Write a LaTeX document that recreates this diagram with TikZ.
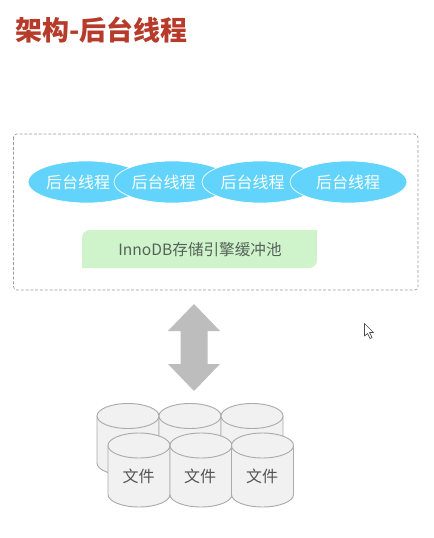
\documentclass[tikz,border=0pt]{standalone}
\usepackage{fontspec}
\setmainfont{Noto Sans CJK SC}
\usetikzlibrary{shapes.geometric}
\definecolor{titlered}{HTML}{B73B2A}
\definecolor{threadblue}{HTML}{62D4FB}
\definecolor{poolgreen}{HTML}{CFF3CB}
\definecolor{pooltext}{HTML}{55635A}
\definecolor{drumfill}{HTML}{F1F1F1}
\definecolor{drumline}{HTML}{ABABAB}
\definecolor{arrowgrey}{HTML}{BDBDBD}
\definecolor{framegrey}{HTML}{9A9A9A}
\definecolor{filetext}{HTML}{555555}
\newlength{\pxu}
\setlength{\pxu}{0.75pt}
\tikzset{
  thread/.style={ellipse,fill=threadblue,draw=white,line width=0.5pt,minimum width=117\pxu,minimum height=42\pxu,inner sep=0pt},
  threadtext/.style={text=white,font=\fontsize{12}{14}\selectfont,inner sep=0pt},
  drumstyle/.style={fill=drumfill,draw=drumline,line width=0.7pt},
  filelabel/.style={text=filetext,font=\fontsize{12}{14}\selectfont,inner sep=0pt}
}
\newcommand{\drum}[3]{% left x, top y of body, bottom y of body
  \draw[drumstyle] (#1,#2) -- (#1,#3) arc[start angle=180,end angle=0,x radius=31,y radius=12.5] -- (#1+62,#2) -- cycle;
  \draw[drumstyle] (#1+31,#2) ellipse[x radius=31,y radius=12.5];
}
\begin{document}
\begin{tikzpicture}[x=0.75pt,y=-0.75pt]
\useasboundingbox (0,0) rectangle (434,538);
\fill[white] (0,0) rectangle (434,538);
\node[anchor=west,inner sep=0pt,text=titlered,font=\fontsize{20.2}{23}\selectfont\bfseries] (title) at (15.5,30) {架构-后台线程};
\draw[framegrey,dash pattern=on 2.2pt off 1.4pt,line width=0.5pt,rounded corners=2.5pt] (13.5,134) rectangle (418,290);
\node[thread] (t1) at (86.5,182) {};
\node[thread] (t2) at (172.5,182) {};
\node[thread] (t3) at (260.5,182) {};
\node[thread] (t4) at (348.5,182) {};
\node[threadtext] (l1) at (78,182) {后台线程};
\node[threadtext] (l2) at (163.5,182) {后台线程};
\node[threadtext] (l3) at (252.5,182) {后台线程};
\node[threadtext] (l4) at (348,182) {后台线程};
\fill[poolgreen] (82,268) -- (82,238) arc[start angle=180,end angle=270,radius=8] -- (317,230) -- (317,260) arc[start angle=0,end angle=90,radius=8] -- cycle;
\node[text=pooltext,font=\fontsize{11.7}{14}\selectfont,inner sep=0pt] (pool) at (200,249.5) {InnoDB存储引擎缓冲池};
\fill[arrowgrey] (194,304) -- (220,331) -- (207.5,331) -- (207.5,364) -- (220,364) -- (194,391) -- (168,364) -- (180.5,364) -- (180.5,331) -- (168,331) -- cycle;
\drum{97}{416}{463}
\drum{159}{416}{463}
\drum{221}{416}{463}
\drum{108}{445.5}{494.5}
\drum{170}{445.5}{494.5}
\drum{231.5}{445.5}{494.5}
\node[filelabel] (f1) at (138.5,476) {文件};
\node[filelabel] (f2) at (200,476) {文件};
\node[filelabel] (f3) at (262,476) {文件};
\draw[fill=white,draw=black!70,line width=0.5pt,line join=round] (364.5,323.5) -- (364.5,336) -- (367.5,333.5) -- (370,338.5) -- (372,337.5) -- (369.5,332.5) -- (373.5,332.5) -- cycle;
\end{tikzpicture}
\end{document}
